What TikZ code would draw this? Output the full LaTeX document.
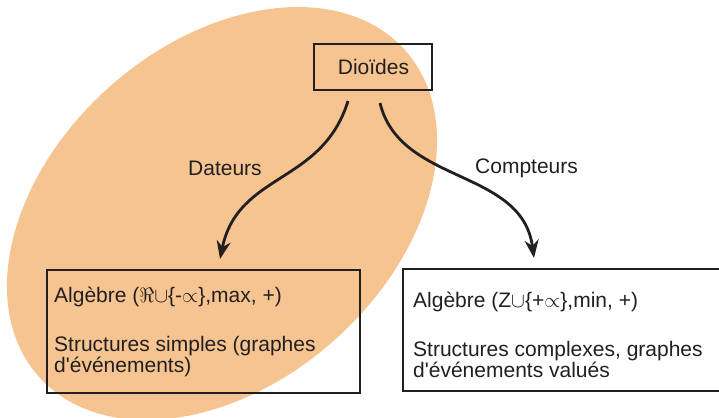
\documentclass[tikz,border=0pt]{standalone}
\usepackage{fontspec}
\setmainfont{Liberation Sans}
\usetikzlibrary{arrows.meta}
\definecolor{peach}{RGB}{245,196,145}
\definecolor{ink}{RGB}{35,31,32}
\newcommand{\apos}{\textquotesingle}
\tikzset{
  box/.style={draw=ink, line width=1.3pt, rectangle, inner sep=0pt},
  txt/.style={anchor=base west, inner sep=0pt, text=ink, font=\fontsize{21}{23}\selectfont},
  lbl/.style={anchor=base west, inner sep=0pt, text=ink, font=\fontsize{21}{25}\selectfont},
  conn/.style={draw=ink, line width=2.8pt, -{Stealth[length=18pt,width=14pt]}}
}
\begin{document}
\begin{tikzpicture}[x=1pt,y=-1pt]
\useasboundingbox (0,0) rectangle (719,417);
\coordinate (c) at (222,213.5);
\fill[peach, rotate around={41.7:(c)}] (c) ellipse (245.3pt and 169.4pt);
% boxes
\node[box, minimum width=118pt, minimum height=46pt] (dio) at (373,67) {};
\node[lbl, anchor=base] (diot) at (373.5,75) {Dioïdes};
\node[box, minimum width=313pt, minimum height=123pt] (left) at (203.5,331.5) {};
\node[box, minimum width=320pt, minimum height=122pt] (right) at (563,330) {};
\node[txt] (l1) at (54,302) {Algèbre (\(\Re\cup\)\{-\(\propto\)\},max, +)};
\node[txt] (l2) at (54,351) {Structures simples (graphes};
\node[txt] (l3) at (54,372) {d\apos événements)};
\node[txt] (r1) at (413,307) {Algèbre (Z\(\cup\)\{+\(\propto\)\},min, +)};
\node[txt] (r2) at (413,356) {Structures complexes, graphes};
\node[txt] (r3) at (413,377) {d\apos événements valués};
\node[lbl] (dat) at (188,175) {Dateurs};
\node[lbl] (cpt) at (475,173) {Compteurs};
% connectors
\coordinate (s1) at (348,101);
\coordinate (e1) at (220,259);
\coordinate (s2) at (380,103);
\coordinate (e2) at (534,258);
\draw[conn] (s1) .. controls (322,185) and (238,172) .. (e1);
\draw[conn] (s2) .. controls (400,185) and (522,168) .. (e2);
\end{tikzpicture}
\end{document}
